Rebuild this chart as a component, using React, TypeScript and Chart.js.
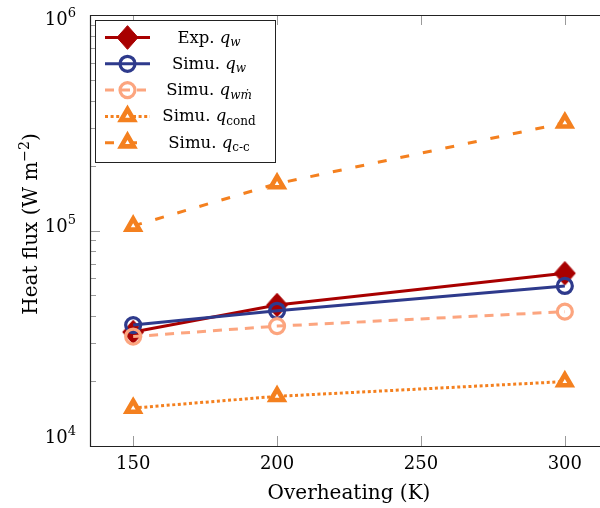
import React, { useEffect, useRef } from "react";
import { Chart, registerables } from "chart.js";

Chart.register(...registerables);

// ---- data ----
const overheating = [150, 200, 300];
const expQw = [33800, 45100, 63300];
const simuQw = [36400, 42400, 55300];
const simuQwm = [32200, 36000, 42000];
const simuQcond = [15000, 17000, 19900];
const simuQcc = [105000, 165000, 316000];
const xTicks = [150, 200, 250, 300];
const yMajorExp = [4, 5, 6];
const xTitle = "Overheating (K)";

type Seg = { t: string; it?: boolean; sub?: boolean; sup?: boolean };
const yTitle: Seg[] = [{ t: "Heat flux (W m" }, { t: "−2", sup: true }, { t: ")" }];
const legendLabels: Seg[][] = [
  [{ t: "Exp. " }, { t: "q", it: true }, { t: "w", it: true, sub: true }],
  [{ t: "Simu. " }, { t: "q", it: true }, { t: "w", it: true, sub: true }],
  [{ t: "Simu. " }, { t: "q", it: true }, { t: "wṁ", it: true, sub: true }],
  [{ t: "Simu. " }, { t: "q", it: true }, { t: "cond", sub: true }],
  [{ t: "Simu. " }, { t: "q", it: true }, { t: "c-c", sub: true }],
];

const RED = "#a80000";
const NAVY = "#2e3a8c";
const SALMON = "#fca57f";
const ORANGE = "#f4801f";
const FONT = '"DejaVu Serif", serif';

type Marker = "diamond" | "circle" | "triangle";
const seriesStyles: { color: string; dash: number[]; marker: Marker; r: number; bw: number; fill: string }[] = [
  { color: RED, dash: [], marker: "diamond", r: 10.5, bw: 1, fill: RED },
  { color: NAVY, dash: [], marker: "circle", r: 7.5, bw: 3.2, fill: "rgba(0,0,0,0)" },
  { color: SALMON, dash: [9, 7], marker: "circle", r: 7.5, bw: 3.2, fill: "rgba(0,0,0,0)" },
  { color: ORANGE, dash: [3, 2.6], marker: "triangle", r: 7.3, bw: 4.6, fill: "#ffffff" },
  { color: ORANGE, dash: [9, 14], marker: "triangle", r: 7.3, bw: 4.6, fill: "#ffffff" },
];
const seriesValues = [expQw, simuQw, simuQwm, simuQcond, simuQcc];

function drawRich(ctx: CanvasRenderingContext2D, segs: Seg[], x: number, y: number, size: number, align: "left" | "center" | "right") {
  const small = Math.round(size * 0.72);
  const fontOf = (s: Seg) => `${s.it ? "italic " : ""}${s.sub || s.sup ? small : size}px ${FONT}`;
  const widths = segs.map((s) => {
    ctx.font = fontOf(s);
    return ctx.measureText(s.t).width;
  });
  const total = widths.reduce((a, b) => a + b, 0);
  let cx = align === "left" ? x : align === "center" ? x - total / 2 : x - total;
  ctx.textAlign = "left";
  ctx.textBaseline = "alphabetic";
  segs.forEach((s, i) => {
    ctx.font = fontOf(s);
    const dy = s.sub ? size * 0.22 : s.sup ? -size * 0.42 : 0;
    ctx.fillText(s.t, cx, y + dy);
    cx += widths[i];
  });
}

function diamondPath(ctx: CanvasRenderingContext2D, x: number, y: number, r: number) {
  const hy = r * 1.13;
  ctx.moveTo(x, y - hy);
  ctx.lineTo(x + r, y);
  ctx.lineTo(x, y + hy);
  ctx.lineTo(x - r, y);
  ctx.closePath();
}

function drawMarker(ctx: CanvasRenderingContext2D, m: Marker, x: number, y: number, r: number) {
  ctx.beginPath();
  if (m === "diamond") {
    diamondPath(ctx, x, y, r);
  } else if (m === "circle") {
    ctx.arc(x, y, r, 0, Math.PI * 2);
  } else {
    const s = Math.sin((2 * Math.PI) / 3) * r;
    ctx.moveTo(x, y - r);
    ctx.lineTo(x + s, y + r / 2);
    ctx.lineTo(x - s, y + r / 2);
    ctx.closePath();
  }
  ctx.fill();
  ctx.stroke();
}

function diamondImage(color: string, r: number): HTMLCanvasElement {
  const c = document.createElement("canvas");
  const w = Math.ceil(r * 2 + 4);
  const h = Math.ceil(r * 2.26 + 4);
  c.width = w;
  c.height = h;
  const g = c.getContext("2d") as CanvasRenderingContext2D;
  g.fillStyle = color;
  g.strokeStyle = color;
  g.lineWidth = 1;
  g.beginPath();
  diamondPath(g, w / 2, h / 2, r);
  g.fill();
  g.stroke();
  return c;
}

const decor = {
  id: "decor",
  afterDatasetsDraw(chart: any) {
    const ctx: CanvasRenderingContext2D = chart.ctx;
    const { left, top, right, bottom } = chart.chartArea;
    const xs = chart.scales.x;
    const ys = chart.scales.y;
    ctx.save();
    const seg = (x1: number, y1: number, x2: number, y2: number) => {
      ctx.beginPath();
      ctx.moveTo(x1, y1);
      ctx.lineTo(x2, y2);
      ctx.stroke();
    };
    // ticks
    ctx.strokeStyle = "#9a9a9a";
    ctx.lineWidth = 1;
    ctx.setLineDash([]);
    xTicks.forEach((v) => {
      const px = Math.round(xs.getPixelForValue(v)) + 0.5;
      seg(px, bottom, px, bottom - 10);
      seg(px, top, px, top + 10);
    });
    yMajorExp.forEach((e) => {
      const py = Math.round(ys.getPixelForValue(Math.pow(10, e))) + 0.5;
      seg(left, py, left + 10, py);
    });
    for (let e = yMajorExp[0]; e < yMajorExp[yMajorExp.length - 1]; e++) {
      for (let k = 2; k <= 9; k++) {
        const py = Math.round(ys.getPixelForValue(k * Math.pow(10, e))) + 0.5;
        seg(left, py, left + 6, py);
      }
    }
    // keep the strip near the picture's right edge clean
    ctx.fillStyle = "#fff";
    ctx.fillRect(590, top + 2, 40, bottom - top - 4);

    // frame (right side lies outside the visible picture)
    ctx.strokeStyle = "#222";
    ctx.lineWidth = 1.2;
    ctx.beginPath();
    ctx.moveTo(right + 20, top + 0.5);
    ctx.lineTo(left + 0.5, top + 0.5);
    ctx.lineTo(left + 0.5, bottom + 0.5);
    ctx.lineTo(right + 20, bottom + 0.5);
    ctx.stroke();

    // tick labels
    ctx.fillStyle = "#000";
    xTicks.forEach((v) => {
      const px = xs.getPixelForValue(v);
      drawRich(ctx, [{ t: String(v) }], px, 469, 18, "center");
    });
    yMajorExp.forEach((e) => {
      const py = ys.getPixelForValue(Math.pow(10, e));
      const base = Math.min(Math.max(py + 1, 25), 443);
      drawRich(ctx, [{ t: "10" }, { t: String(e), sup: true }], 76, base, 18, "right");
    });
    // axis titles
    drawRich(ctx, [{ t: xTitle }], (left + right) / 2, 499, 20, "center");
    ctx.save();
    ctx.translate(37, 224);
    ctx.rotate(-Math.PI / 2);
    drawRich(ctx, yTitle, 0, 0, 20, "center");
    ctx.restore();

    // legend
    const bx = 95, by = 20, bw = 180, bh = 142;
    ctx.fillStyle = "#fff";
    ctx.fillRect(bx, by, bw, bh);
    ctx.strokeStyle = "#222";
    ctx.lineWidth = 1;
    ctx.strokeRect(bx + 0.5, by + 0.5, bw, bh);
    legendLabels.forEach((lab, i) => {
      const st = seriesStyles[i];
      const cy = 37.5 + i * 26.3;
      ctx.strokeStyle = st.color;
      ctx.lineWidth = 3;
      ctx.setLineDash(st.dash);
      seg(105, cy, 150, cy);
      ctx.setLineDash([]);
      ctx.lineWidth = st.bw;
      ctx.fillStyle = st.fill;
      drawMarker(ctx, st.marker, 127.5, cy, st.r);
      ctx.fillStyle = "#000";
      drawRich(ctx, lab, 209, cy + 5, 16.5, "center");
    });
    ctx.restore();
  },
};

export default function App() {
  const ref = useRef<HTMLCanvasElement | null>(null);
  useEffect(() => {
    if (!ref.current) return;
    const pointStyleOf = (m: Marker, color: string, r: number) =>
      m === "diamond" ? diamondImage(color, r) : m;
    const datasets = seriesValues.map((vals, i) => {
      const st = seriesStyles[i];
      return {
        label: String(i),
        data: overheating.map((x, j) => ({ x, y: vals[j] })),
        borderColor: st.color,
        borderWidth: 3,
        borderDash: st.dash,
        fill: false,
        tension: 0,
        pointStyle: pointStyleOf(st.marker, st.color, st.r),
        pointRadius: st.r,
        pointBorderWidth: st.bw,
        pointBorderColor: st.color,
        pointBackgroundColor: st.fill,
        order: seriesValues.length - i,
      };
    });
    const chart = new Chart(ref.current, {
      type: "line",
      data: { datasets } as any,
      options: {
        animation: false,
        responsive: false,
        layout: { padding: { left: 90, top: 15, right: 12, bottom: 62 } },
        scales: {
          x: { type: "linear", min: 135, max: 315, display: false },
          y: { type: "logarithmic", min: 1e4, max: 1e6, display: false },
        },
        plugins: { legend: { display: false }, tooltip: { enabled: false } },
      } as any,
      plugins: [decor],
    });
    return () => chart.destroy();
  }, []);
  return (
    <div style={{ position: "fixed", left: 0, top: 0, width: 600, height: 508, overflow: "hidden", background: "#fff" }}>
      <canvas ref={ref} width={620} height={508} style={{ display: "block", width: 620, height: 508 }} />
    </div>
  );
}
